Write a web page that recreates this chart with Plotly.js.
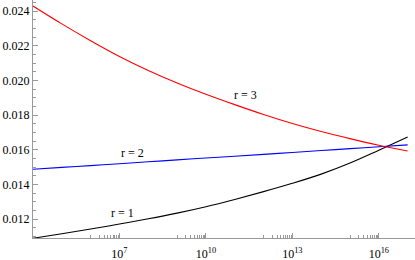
<!DOCTYPE html>
<html><head><meta charset="utf-8">
<script src="https://cdn.plot.ly/plotly-3.0.1.min.js"></script>
<style>html,body{margin:0;padding:0;background:#fff;}#chart{width:415px;height:260px;}</style>
</head><body><div id="chart"></div>
<script>
// x values (decades)
const xValues = [1e4,1e5,1e6,1e7,1e8,1e9,1e10,1e11,1e12,1e13,1e14,1e15,1e16,1e17];
// series
const r1 = [0.01089,0.01115,0.01142,0.01171,0.01201,0.01234,0.01271,0.01313,0.01358,0.01406,0.01459,0.01523,0.01597,0.01673];
const r2 = [0.01487,0.01498,0.01508,0.01519,0.01530,0.01541,0.01552,0.01562,0.01573,0.01584,0.01595,0.01606,0.01617,0.01628];
const r3 = [0.02429,0.02326,0.02229,0.02138,0.02057,0.01985,0.01920,0.01860,0.01803,0.01751,0.01705,0.01664,0.01626,0.01592];
const seriesNames = ['r = 1','r = 2','r = 3'];
// tick labels
const xTickVals = [1e7,1e10,1e13,1e16];
const xTickText = ['10<sup>7</sup>','10<sup>10</sup>','10<sup>13</sup>','10<sup>16</sup>'];
const yTickVals = [0.012,0.014,0.016,0.018,0.020,0.022,0.024];
const yTickText = ['0.012','0.014','0.016','0.018','0.020','0.022','0.024'];

const xMinor = [];
[6,9,12,15].forEach(function(e){ for(let k=1;k<=9;k++){ xMinor.push(k*Math.pow(10,e)); } });

const axisGray = '#999999';
const font = {family:'"Liberation Serif", "Times New Roman", serif', size:12, color:'#000'};

const traces = [
  {x:xValues, y:r1, name:seriesNames[0], mode:'lines', line:{color:'#000000', width:1.1, shape:'spline'}},
  {x:xValues, y:r2, name:seriesNames[1], mode:'lines', line:{color:'#0000ff', width:1.1, shape:'spline'}},
  {x:xValues, y:r3, name:seriesNames[2], mode:'lines', line:{color:'#ff0000', width:1.1, shape:'spline'}}
];

const layout = {
  width:415, height:260,
  margin:{l:33, r:0, t:0, b:22, pad:0},
  paper_bgcolor:'#fff', plot_bgcolor:'#fff',
  showlegend:false,
  font:font,
  xaxis:{
    type:'log', range:[4, 17.255], autorange:false,
    tickmode:'array', tickvals:xTickVals, ticktext:xTickText,
    ticks:'inside', ticklen:5, tickwidth:1, tickcolor:axisGray,
    showline:true, linecolor:axisGray, linewidth:1,
    showgrid:false, zeroline:false,
    tickfont:font, ticklabelstandoff:5,
    minor:{tickmode:'array', tickvals:xMinor, ticks:'inside', ticklen:3, tickwidth:1, tickcolor:axisGray, showgrid:false}
  },
  yaxis:{
    range:[0.010904, 0.024637], autorange:false,
    tickmode:'array', tickvals:yTickVals, ticktext:yTickText,
    ticks:'inside', ticklen:5, tickwidth:1, tickcolor:axisGray,
    showline:true, linecolor:axisGray, linewidth:1,
    showgrid:false, zeroline:false,
    tickfont:font,
    minor:{dtick:0.0005, tick0:0, ticks:'inside', ticklen:3, tickwidth:1, tickcolor:axisGray, showgrid:false}
  },
  annotations:[
    {x:7.11, y:0.01235, xref:'x', yref:'y', text:seriesNames[0], showarrow:false, font:font},
    {x:7.46, y:0.01581, xref:'x', yref:'y', text:seriesNames[1], showarrow:false, font:font},
    {x:11.36, y:0.019155, xref:'x', yref:'y', text:seriesNames[2], showarrow:false, font:font}
  ]
};

Plotly.newPlot('chart', traces, layout, {staticPlot:true, displayModeBar:false});
</script>
</body></html>
